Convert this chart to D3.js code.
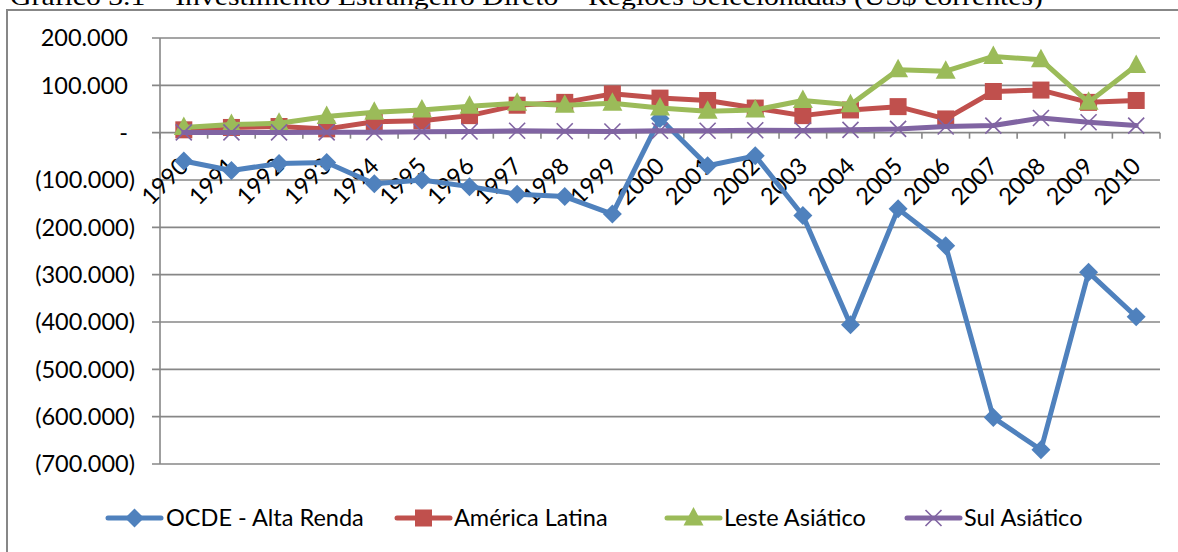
<!DOCTYPE html>
<html>
<head>
<meta charset="utf-8">
<script src="https://cdn.jsdelivr.net/npm/d3@7"></script>
<style>
  html, body { margin: 0; padding: 0; background: #fff; }
  svg { display: block; }
  text { font-family: Lato, "Open Sans", sans-serif; fill: #000; }
</style>
</head>
<body>
<svg id="chart" width="1178" height="552"></svg>
<script>
// Investimento Estrangeiro Direto, 1990–2010 (US$ milhões)
const years = ["1990","1991","1992","1993","1994","1995","1996","1997","1998","1999","2000",
               "2001","2002","2003","2004","2005","2006","2007","2008","2009","2010"];

const ocdeAltaRenda = [-60000,-80000,-65000,-63000,-108000,-100000,-114000,-130000,-135000,-172000,30000,
                       -70000,-49000,-175000,-406000,-161000,-239000,-602000,-670000,-295000,-389000];
const americaLatina = [6000,11000,13000,8000,23000,25000,36000,58000,64000,82000,73000,
                       68000,52000,36000,48000,55000,29000,87000,90000,64000,68000];
const lesteAsiatico = [11000,17000,20000,34000,43000,48000,56000,62000,58000,62000,52000,
                       45000,48000,68000,59000,133000,130000,161000,154000,64000,142000];
const sulAsiatico   = [500,500,600,700,1000,2000,2500,4000,3000,2500,4000,
                       4000,5000,4500,6000,8000,13000,15000,31000,22000,15000];

const yTicks = [200000,100000,0,-100000,-200000,-300000,-400000,-500000,-600000,-700000];

const seriesNames = ["OCDE - Alta Renda","América Latina","Leste Asiático","Sul Asiático"];
const seriesColors = ["#4F81BD","#C0504D","#9BBB59","#8064A2"];
const seriesMarkers = ["diamond","square","triangle","cross"];

const series = seriesNames.map((name, i) => ({
  name,
  color: seriesColors[i],
  marker: seriesMarkers[i],
  values: [ocdeAltaRenda, americaLatina, lesteAsiatico, sulAsiatico][i]
}));

const svg = d3.select("#chart");
const gridColor = "#878787";

// plot area
const plotLeft = 160, plotRight = 1160, plotTop = 38, plotBottom = 464;

const x = d3.scaleBand().domain(years).range([plotLeft, plotRight]);
const y = d3.scaleLinear().domain([-700000, 200000]).range([plotBottom, plotTop]);

// title (runs off the top of the page)
svg.append("text")
  .attr("x", 10).attr("y", 5)
  .style("font-family", "'Liberation Serif', 'Times New Roman', serif")
  .style("font-size", "26px")
  .attr("textLength", 1033)
  .attr("lengthAdjust", "spacingAndGlyphs")
  .text("Gráfico 3.1 – Investimento Estrangeiro Direto – Regiões Selecionadas (US$ correntes)");

// chart frame
svg.append("rect")
  .attr("x", 7).attr("y", 10)
  .attr("width", 1200).attr("height", 600)
  .attr("fill", "none")
  .attr("stroke", gridColor)
  .attr("stroke-width", 2);

// gridlines with outer tick marks
svg.append("g")
  .selectAll("line")
  .data(yTicks)
  .join("line")
  .attr("x1", plotLeft - 8).attr("x2", plotRight)
  .attr("y1", d => y(d)).attr("y2", d => y(d))
  .attr("stroke", gridColor)
  .attr("stroke-width", 1.6);

// vertical axis line
svg.append("line")
  .attr("x1", plotLeft).attr("x2", plotLeft)
  .attr("y1", y(200000)).attr("y2", y(-700000))
  .attr("stroke", gridColor).attr("stroke-width", 1.6);

// horizontal axis at zero with category tick marks
const boundaries = years.map(d => x(d)).concat([plotRight]);
svg.append("g")
  .selectAll("line")
  .data(boundaries)
  .join("line")
  .attr("x1", d => d).attr("x2", d => d)
  .attr("y1", y(0)).attr("y2", y(0) + 6)
  .attr("stroke", gridColor).attr("stroke-width", 1.6);

// y tick labels: 200.000, -, (100.000)
const loc = d3.formatLocale({ decimal: ",", thousands: ".", grouping: [3], currency: ["", ""] });
const fmt = loc.format(",.0f");
svg.append("g")
  .selectAll("text")
  .data(yTicks)
  .join("text")
  .attr("x", d => d < 0 ? 135 : 128)
  .attr("y", d => y(d))
  .attr("dy", "0.36em")
  .attr("text-anchor", "end")
  .style("font-size", "23.5px")
  .text(d => d === 0 ? "-" : d < 0 ? "(" + fmt(-d) + ")" : fmt(d));

// x tick labels, rotated
svg.append("g")
  .selectAll("text")
  .data(years)
  .join("text")
  .attr("transform", d => `translate(${x(d) + x.bandwidth() / 2 + 6},${y(0) + 35}) rotate(-45)`)
  .attr("text-anchor", "end")
  .style("font-size", "23.5px")
  .text(d => d);

// marker drawing
function drawMarker(g, type, color, cx, cy) {
  if (type === "diamond") {
    g.append("path")
      .attr("d", `M${cx},${cy - 9.5}L${cx + 9.5},${cy}L${cx},${cy + 9.5}L${cx - 9.5},${cy}Z`)
      .attr("fill", color);
  } else if (type === "square") {
    g.append("rect")
      .attr("x", cx - 8.5).attr("y", cy - 8.5)
      .attr("width", 17).attr("height", 17)
      .attr("fill", color);
  } else if (type === "triangle") {
    g.append("path")
      .attr("d", `M${cx},${cy - 11}L${cx + 10},${cy + 7.5}L${cx - 10},${cy + 7.5}Z`)
      .attr("fill", color);
  } else {
    g.append("path")
      .attr("d", `M${cx - 8},${cy - 8}L${cx + 8},${cy + 8}M${cx - 8},${cy + 8}L${cx + 8},${cy - 8}`)
      .attr("stroke", color).attr("stroke-width", 1.6).attr("fill", "none");
  }
}

const line = d3.line()
  .x((d, i) => x(years[i]) + x.bandwidth() / 2)
  .y(d => y(d));

series.forEach(s => {
  const g = svg.append("g");
  g.append("path")
    .datum(s.values)
    .attr("d", line)
    .attr("fill", "none")
    .attr("stroke", s.color)
    .attr("stroke-width", 5)
    .attr("stroke-linejoin", "round")
    .attr("stroke-linecap", "round");
  s.values.forEach((v, i) => {
    drawMarker(g, s.marker, s.color, x(years[i]) + x.bandwidth() / 2, y(v));
  });
});

// legend
const legendY = 518;
const legendItems = [
  { x0: 108, tx: 166 },
  { x0: 397, tx: 454 },
  { x0: 667, tx: 724 },
  { x0: 907, tx: 964 }
];
series.forEach((s, i) => {
  const g = svg.append("g");
  const li = legendItems[i];
  g.append("line")
    .attr("x1", li.x0).attr("x2", li.x0 + 53)
    .attr("y1", legendY).attr("y2", legendY)
    .attr("stroke", s.color).attr("stroke-width", 5)
    .attr("stroke-linecap", "round");
  drawMarker(g, s.marker, s.color, li.x0 + 26.5, legendY);
  g.append("text")
    .attr("x", li.tx).attr("y", legendY)
    .attr("dy", "0.36em")
    .style("font-size", "23.5px")
    .text(s.name);
});
</script>
</body>
</html>
